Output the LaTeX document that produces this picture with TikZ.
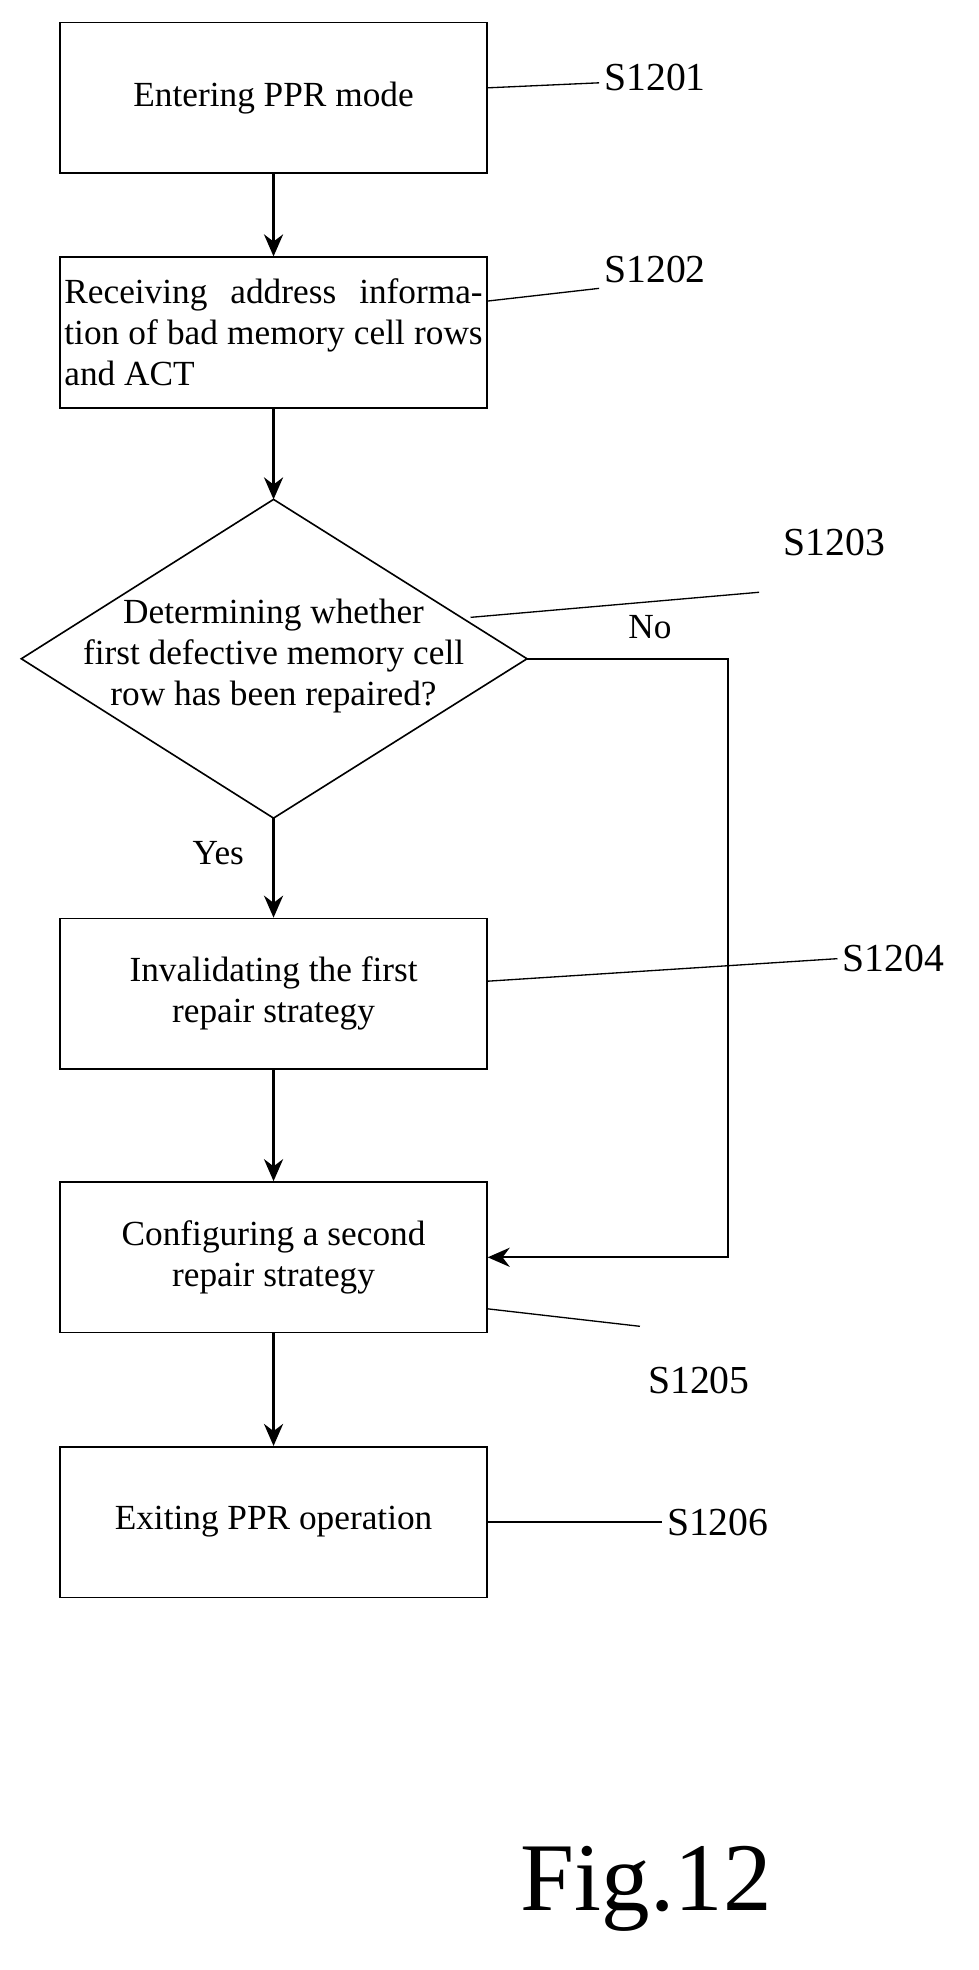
\documentclass[tikz,border=0pt]{standalone}
\usepackage{fontspec}
\setmainfont{Liberation Serif}
\usetikzlibrary{arrows.meta}
\tikzset{
  stepbox/.style={draw, line width=1.1pt, minimum width=10.2cm, minimum height=3.6cm, align=center, font=\fontsize{24}{28}\selectfont},
  flow/.style={line width=1.6pt, -{Stealth[length=15pt,width=13pt]}},
  lead/.style={line width=0.9pt},
  tag/.style={font=\fontsize{27}{30}\selectfont}
}
\begin{document}
\begin{tikzpicture}[x=0.03cm, y=-0.03cm]
        \useasboundingbox (0,0) rectangle (780,1570);
                % Nodes
                \node[stepbox] (s1) at (218,78) {Entering PPR mode};
                \node[stepbox, text width=10cm, align=justify, inner sep=2pt] (s2) at (218,265) {Receiving address information of bad memory cell rows and ACT};
                \coordinate (dt) at (218,398);
                \coordinate (dr) at (420,525);
                \coordinate (db) at (218,652);
                \coordinate (dl) at (17,525);
                \draw[line width=1.1pt] (dt) -- (dr) -- (db) -- (dl) -- cycle;
                \node[align=center, font=\fontsize{24}{28}\selectfont] (s3) at (218,523) {Determining whether\\first defective memory cell\\row has been repaired?};
                \node[stepbox] (s4) at (218,792) {Invalidating the first\\repair strategy};
                \node[stepbox] (s5) at (218,1002) {Configuring a second\\repair strategy};
                \node[stepbox] (s6) at (218,1213) {Exiting PPR operation};
                \coordinate (nc) at (580,525);

                % Arrows
                \draw[flow] (s1) -- (s2);
                \draw[flow] (s2) -- (dt);
                \draw[flow] (db) -- (s4) node[pos=0.35, left=16pt, font=\fontsize{24}{28}\selectfont] {Yes};
                \draw[flow] (s4) -- (s5);
                \draw[flow] (s5) -- (s6);
                \draw[flow] (dr) -- (nc) |- (s5.east);
                \node[font=\fontsize{24}{28}\selectfont] (no) at (518,500) {No};

                % Step labels
                \node[tag] (t1) at (522,62) {S1201};
                \node[tag] (t2) at (522,215) {S1202};
                \node[tag] (t3) at (665,432) {S1203};
                \node[tag] (t4) at (712,764) {S1204};
                \node[tag] (t5) at (557,1100) {S1205};
                \node[tag] (t6) at (572,1213) {S1206};
                \draw[lead] (s1.east |- 0,70) -- (t1.west |- 0,66);
                \draw[lead] (388,240) -- (t2.south west);
                \draw[lead] (375,492) -- (605,472);
                \draw[lead] (388,782) -- (t4.west);
                \draw[lead] (388,1043) -- (510,1057);
                \draw[lead] (s6.east) -- (t6.west);
                \node[font=\fontsize{66}{70}\selectfont] (fig) at (515,1505) {Fig.12};
        \end{tikzpicture}
\end{document}
